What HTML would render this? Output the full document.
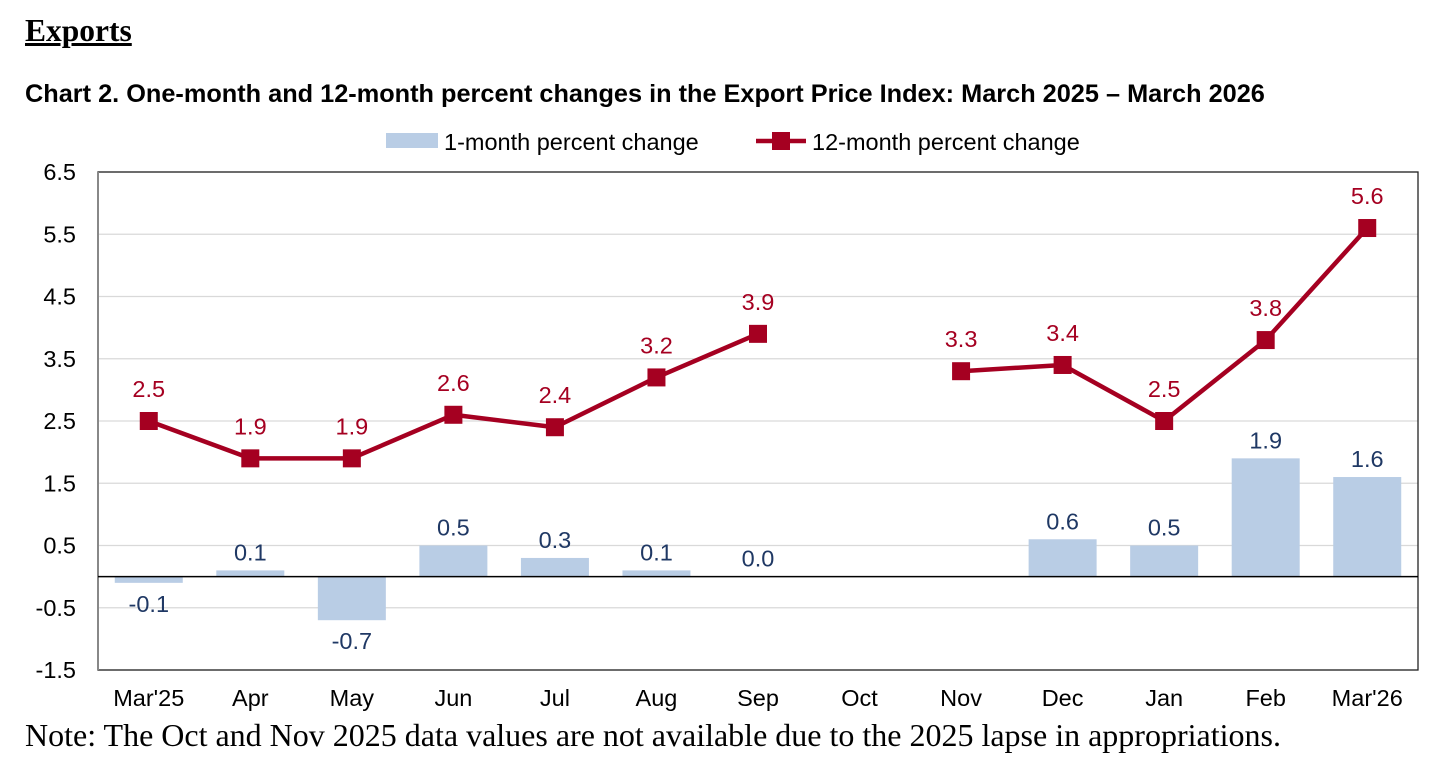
<!DOCTYPE html>
<html><head><meta charset="utf-8"><style>
body{margin:0;background:#fff;width:1448px;height:776px;overflow:hidden;font-family:"Liberation Sans",sans-serif}
.h{position:absolute;left:25px;top:13px;font-family:"Liberation Serif",serif;font-weight:bold;font-size:31.5px;text-decoration:underline}
.t{position:absolute;left:25px;top:80px;font-weight:bold;font-size:25.3px;white-space:nowrap}
.n{position:absolute;left:25px;top:717px;font-family:"Liberation Serif",serif;font-size:32px;white-space:nowrap}
svg{position:absolute;left:0;top:0}
</style></head><body>
<div class="h">Exports</div>
<div class="t">Chart 2. One-month and 12-month percent changes in the Export Price Index: March 2025 – March 2026</div>
<svg id="c" width="1448" height="776"></svg>
<div class="n">Note: The Oct and Nov 2025 data values are not available due to the 2025 lapse in appropriations.</div>
<script>
const categories=["Mar'25","Apr","May","Jun","Jul","Aug","Sep","Oct","Nov","Dec","Jan","Feb","Mar'26"];
const oneMonth=[-0.1,0.1,-0.7,0.5,0.3,0.1,0.0,null,null,0.6,0.5,1.9,1.6];
const twelveMonth=[2.5,1.9,1.9,2.6,2.4,3.2,3.9,null,3.3,3.4,2.5,3.8,5.6];
const yTicks=[6.5,5.5,4.5,3.5,2.5,1.5,0.5,-0.5,-1.5];
const NS="http://www.w3.org/2000/svg",svg=document.getElementById('c');
const L=98,R=1418,T=172,B=670,yMin=-1.5,yMax=6.5,FS=23.5;
const bw=(R-L)/categories.length;
const y=v=>B-(v-yMin)/(yMax-yMin)*(B-T);
const x=i=>L+bw*(i+0.5);
function el(t,a,txt){const e=document.createElementNS(NS,t);for(const k in a)e.setAttribute(k,a[k]);if(txt!=null)e.textContent=txt;svg.appendChild(e);return e;}
yTicks.forEach(v=>{
  const g=el('line',{x1:L,x2:R,y1:y(v),y2:y(v),stroke:'#d9d9d9','stroke-width':1.3});
  
  
  const t=el('text',{x:76,y:y(v)+8,'text-anchor':'end','font-size':FS},v.toFixed(1));
  
  
});
const fr=el('rect',{x:L,y:T,width:R-L,height:B-T,fill:'none',stroke:'#222','stroke-width':1.3});


const yax=el('line',{x1:L,x2:L,y1:T,y2:B,stroke:'#888','stroke-width':2});


categories.forEach((c,i)=>{
  const t=el('text',{x:x(i),y:706,'text-anchor':'middle','font-size':FS},c);
  
  
  const v=oneMonth[i];if(v==null)return;
  const y0=y(0),y1=y(v);
  const r=el('rect',{x:x(i)-34,y:Math.min(y0,y1),width:68,height:Math.max(Math.abs(y1-y0),0.01),fill:'#b9cde5'});
  
  
  const ly=v>=0?y1-10:y1+29;
  const lt=el('text',{x:x(i),y:ly,'text-anchor':'middle','font-size':FS,fill:'#1f3864'},v.toFixed(1));
  
  
});
const zl=el('line',{x1:L,x2:R,y1:y(0),y2:y(0),stroke:'#000','stroke-width':1.5});


let d='',pen=false;
twelveMonth.forEach((v,i)=>{if(v==null){pen=false;return;}d+=(pen?'L':'M')+x(i)+','+y(v);pen=true;});
const ln=el('path',{d:d,fill:'none',stroke:'#a50021','stroke-width':4.5,'stroke-linejoin':'round'});


twelveMonth.forEach((v,i)=>{if(v==null)return;
  const m=el('rect',{x:x(i)-9,y:y(v)-9,width:18,height:18,fill:'#a50021'});
  
  
  const t=el('text',{x:x(i),y:y(v)-24,'text-anchor':'middle','font-size':FS,fill:'#a50021'},v.toFixed(1));
  
  
});
const lb=el('rect',{x:386,y:133,width:52,height:15,fill:'#b9cde5'});


const lt1=el('text',{x:444,y:150,'font-size':FS},'1-month percent change');


const ll=el('line',{x1:756,x2:806,y1:141,y2:141,stroke:'#a50021','stroke-width':4.5});


const lm=el('rect',{x:772,y:132,width:18,height:18,fill:'#a50021'});


const lt2=el('text',{x:812,y:150,'font-size':FS},'12-month percent change');


</script>
</body></html>
